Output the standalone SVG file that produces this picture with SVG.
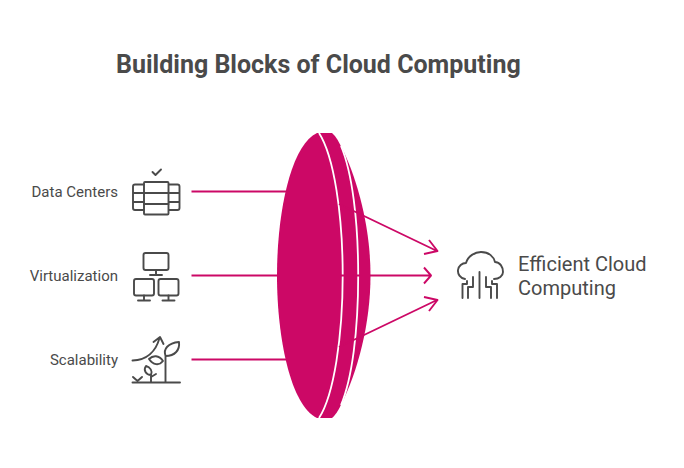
<svg xmlns="http://www.w3.org/2000/svg" width="684" height="468" viewBox="0 0 684 468">
<style>
.t{font-family:"Roboto","Liberation Sans",sans-serif;fill:#4a4a4a}
.l{font-size:15px}
.i{fill:none;stroke:#4a4a4a;stroke-width:1.9;stroke-linecap:round;stroke-linejoin:round}
.c{fill:none;stroke:#cc0866;stroke-width:1.9;stroke-linecap:butt;stroke-linejoin:round}
.p{fill:#cc0866}
.g{fill:none;stroke:#fff;stroke-width:1.8}
</style>
<rect width="684" height="468" fill="#fff"/>
<text class="t" x="116" y="73" font-size="25" font-weight="700">Building Blocks of Cloud Computing</text>
<g id="lens">
<path class="p" d="M341 146C358 180 370.500 228 370.500 275.500C370.500 323 358 371 341 405Z"/>
<path class="p" d="M317 133H332C350 148 358.200 215 358.200 275.500C358.200 336 350 403 332 418H317C291 406 277 339 277 275.500C277 212 291 145 317 133Z"/>
<path class="g" d="M319 133C334 156 342.700 215 342.700 275.500C342.700 336 334 395 319 418"/>
<path class="g" d="M341 146C352 172 358.200 220 358.200 275.500C358.200 331 352 379 341 405"/>
</g>
<g id="connectors">
<path class="c" d="M191.500 191.500H290M191.500 275.500H290M191.500 359.500H290"/>
<path class="c" d="M339 204L437 251M429 240L437.500 251L424 254"/>
<path class="c" d="M339 347L437 300M424 297L437.500 300L429 311"/>
<path class="c" d="M340 275.500H431M424 267.500L431 275.500L424 283.500"/>
</g>
<g id="n1">
<text class="t l" x="118" y="196.500" text-anchor="end">Data Centers</text>
<g class="i"><path d="M152.500 172L155.500 175L161 169.500"/><rect x="144" y="182" width="24.500" height="32.500" rx="1"/><path d="M144 193H168.500M144 204H168.500"/><path d="M143.500 184.500H135Q133 184.500 133 186.500V208Q133 210 135 210H143.500M133 193H143.500M133 202H143.500"/><path d="M169 184.500H177.500Q179.500 184.500 179.500 186.500V208Q179.500 210 177.500 210H169M179.500 193H169M179.500 202H169"/></g>
</g>
<g id="n2">
<text class="t l" x="118" y="280.500" text-anchor="end">Virtualization</text>
<g class="i"><rect x="143.500" y="253" width="25" height="17" rx="2"/><path d="M156 270V275M150 275H162"/><rect x="134" y="279" width="20" height="16.500" rx="2"/><path d="M144 295.500V300M138 300.500H150"/><rect x="158.500" y="279" width="20" height="16.500" rx="2"/><path d="M168.500 295.500V300M162.500 300.500H174.500"/></g>
</g>
<g id="n3">
<text class="t l" x="118" y="364.500" text-anchor="end">Scalability</text>
<g class="i"><path d="M132.500 360.500C147 360 156 351 159.500 338M153.500 342L160 337L163.500 344"/><path d="M132.500 382.500H180M165.500 382V357"/><path d="M165.500 356C163 349 168 343 179 342C180 350 175 356 165.500 356Z"/><path d="M163 361C159 355 153 355 149 359C153 365 159 366 163 361Z"/><path d="M151 382V375M151 375C153 371 150 367 146 366C143 370 146 375 151 375ZM151 377L156 374"/><path d="M133 377L137.500 381L142 377"/></g>
</g>
<g id="n4">
<text class="t" font-size="20" x="518" y="271">Efficient Cloud</text>
<text class="t" font-size="20" x="518" y="295">Computing</text>
<g class="i"><path d="M465 279C460 278 457.500 274 458 270C458.500 266 462 263 466 263C468 256 475 252 481 252C489 252 494 257 495 262C500 262 503 267 503 272C503 276 499 279 494 279"/><path d="M479.500 272V298M473 277V287L468 287V298M486 277V287L491 287V298M467 281V284H462.500V298M492 281V284H497V298"/></g>
</g>
</svg>
